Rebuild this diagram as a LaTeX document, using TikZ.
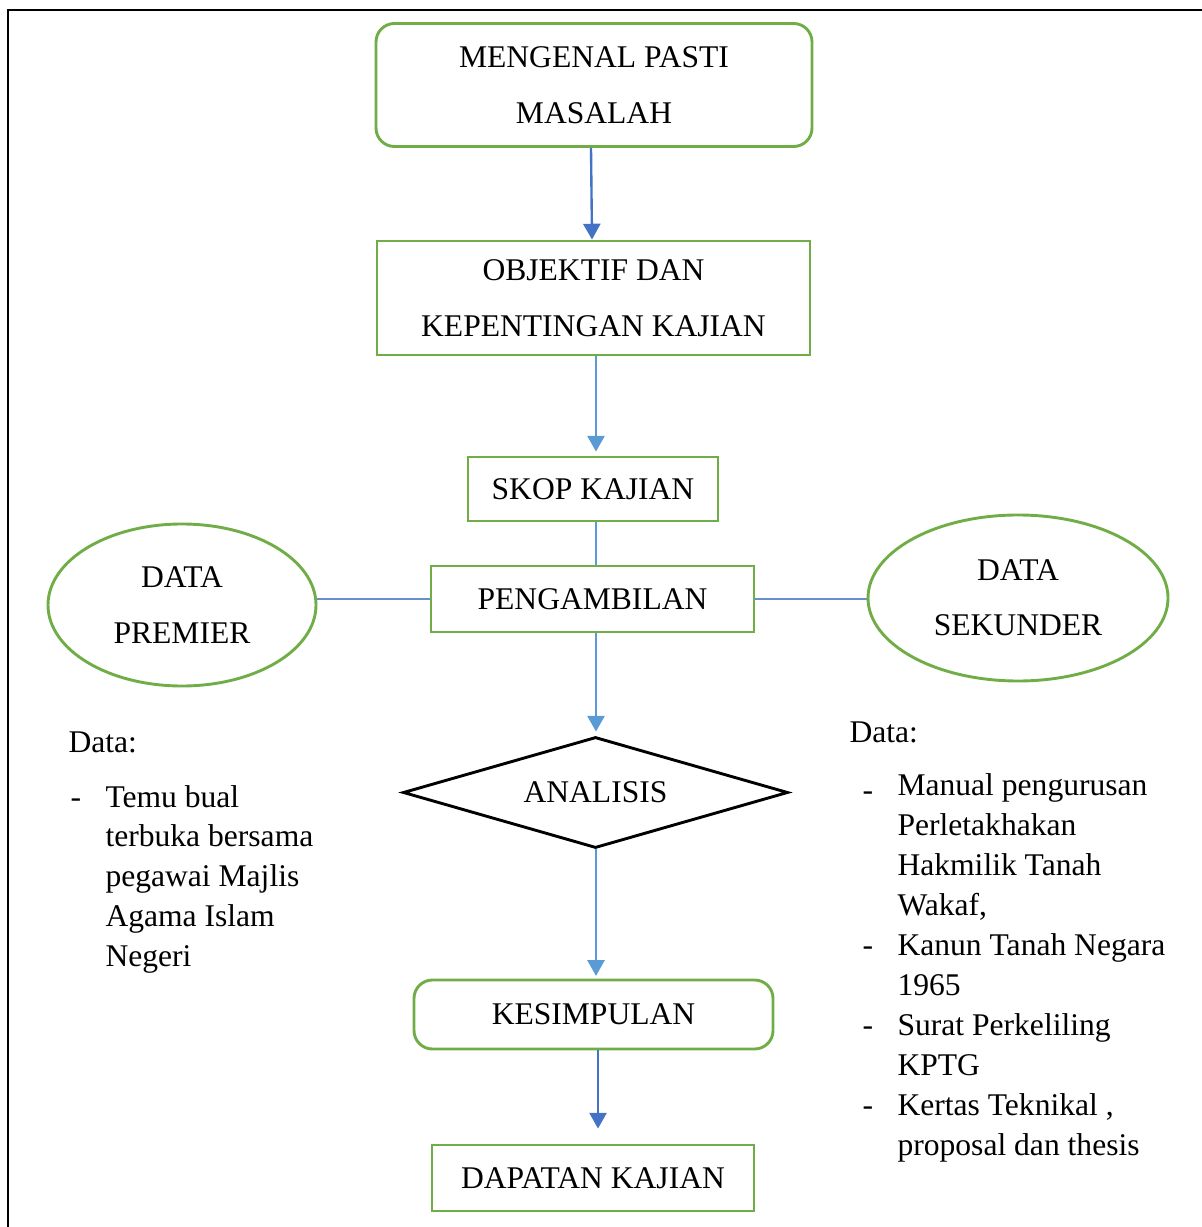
\documentclass[tikz,border=0pt]{standalone}
\usepackage{fontspec}
\setmainfont{Liberation Serif}
\usetikzlibrary{shapes.geometric, arrows.meta, positioning}
\definecolor{hijauKotak}{HTML}{70AD47}
\definecolor{biruGelap}{HTML}{4472C4}
\definecolor{biruMuda}{HTML}{5B9BD5}
\def\px{0.38pt}

\begin{document}
\begin{tikzpicture}[
    x=0.38pt, y=-0.38pt,
    kotak/.style={rectangle, draw=hijauKotak, line width=1.1pt, inner sep=0pt, align=center, font=\fontsize{12}{21.3}\selectfont},
    kotakbulat/.style={kotak, rounded corners=7pt},
    elips/.style={ellipse, draw=hijauKotak, line width=1.1pt, inner sep=0pt, align=center, font=\fontsize{12}{21}\selectfont},
    keputusan/.style={diamond, draw=black, line width=1.1pt, inner sep=0pt, aspect=3.47, font=\fontsize{12}{14}\selectfont},
    teks/.style={inner sep=0pt, anchor=base west, align=left, font=\fontsize{12}{15.1}\selectfont},
    anakpanah/.style={-{Triangle[length=6pt, width=6.5pt]}, line width=0.9pt},
    garis/.style={line width=0.9pt, biruMuda},
    sambung/.style={line width=0.5pt, biruGelap!80}
]
    \useasboundingbox (0,0) rectangle (1201,1227);
    % bingkai luar
    \draw[line width=1.1pt] (8,1240) -- (8,10) -- (1215,10);

    \node[kotakbulat, minimum width=436*\px, minimum height=123*\px] (b1) at (594,85) {MENGENAL PASTI\\MASALAH};
    \node[kotak, minimum width=433*\px, minimum height=114*\px] (b2) at (593.5,298) {OBJEKTIF DAN\\KEPENTINGAN KAJIAN};
    \node[kotak, minimum width=250*\px, minimum height=64*\px] (b3) at (593,489) {SKOP KAJIAN};
    \node[kotak, minimum width=323*\px, minimum height=66*\px] (b4) at (592.5,599) {PENGAMBILAN};
    \node[elips, minimum width=268*\px, minimum height=162*\px] (eKiri) at (182,605) {DATA\\PREMIER};
    \node[elips, minimum width=300*\px, minimum height=166*\px] (eKanan) at (1018,598) {DATA\\SEKUNDER};
    \node[keputusan, minimum width=385*\px, minimum height=111*\px] (analisis) at (595.5,792.5) {ANALISIS};
    \node[kotakbulat, minimum width=359*\px, minimum height=69*\px] (b5) at (593.5,1014.5) {KESIMPULAN};
    \node[kotak, minimum width=322*\px, minimum height=66*\px] (b6) at (593,1178) {DAPATAN KAJIAN};

    % senarai data (anchor pada garis dasar baris terakhir)
    \node[teks] (dataKiri) at (68,752) {Data:};
    \node[teks] (sengK1) at (70,807) {-};
    \node[teks] (itemK1) at (105,966) {Temu bual\\terbuka bersama\\pegawai Majlis\\Agama Islam\\Negeri};
    \node[teks] (dataKanan) at (849,742) {Data:};
    \node[teks] (sengR1) at (862,800) {-};
    \node[teks] (itemR1) at (897,915) {Manual pengurusan\\Perletakhakan\\Hakmilik Tanah\\Wakaf,};
    \node[teks] (sengR2) at (862,955) {-};
    \node[teks] (itemR2) at (897,995) {Kanun Tanah Negara\\1965};
    \node[teks] (sengR3) at (862,1035) {-};
    \node[teks] (itemR3) at (897,1075) {Surat Perkeliling\\KPTG};
    \node[teks] (sengR4) at (862,1115) {-};
    \node[teks] (itemR4) at (897,1155) {Kertas Teknikal ,\\proposal dan thesis};

    \draw[anakpanah, biruGelap] ([xshift=-3*\px]b1.south) -- ([xshift=-1.5*\px]b2.north);
    \draw[anakpanah, biruMuda, shorten >=1.5pt] ([xshift=2.5*\px]b2.south) -- ([xshift=3*\px]b3.north);
    \draw[garis] ([xshift=3*\px]b3.south) -- ([xshift=3.5*\px]b4.north);
    \draw[sambung] (b4.west) -- (b4.west -| eKiri.east);
    \draw[sambung] (b4.east) -- (b4.east -| eKanan.west);
    \draw[anakpanah, biruMuda, shorten >=1.5pt] ([xshift=3.5*\px]b4.south) -- ([xshift=0.5*\px]analisis.north);
    \draw[anakpanah, biruMuda, shorten >=1pt] ([xshift=0.5*\px]analisis.south) -- ([xshift=2.5*\px]b5.north);
    \draw[anakpanah, biruGelap, shorten >=5.7pt] ([xshift=4.5*\px]b5.south) -- ([xshift=5*\px]b6.north);
\end{tikzpicture}
\end{document}
